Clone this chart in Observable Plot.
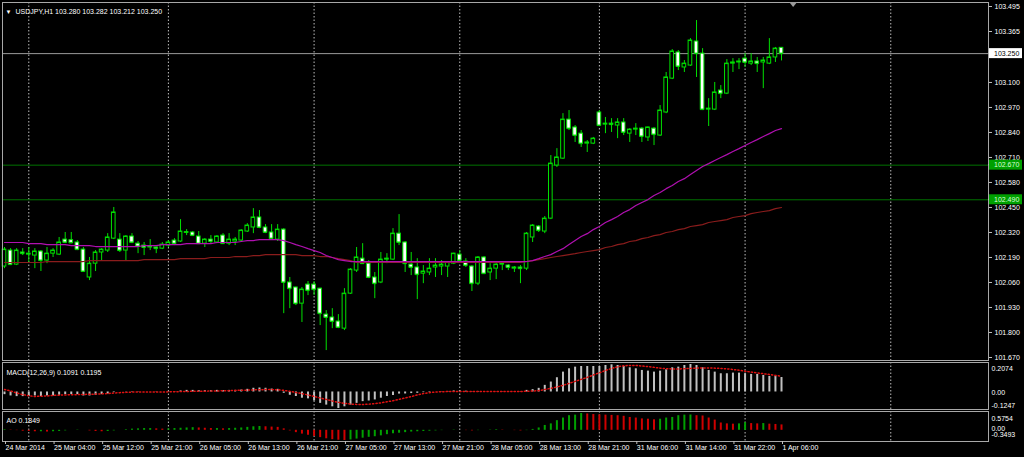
<!DOCTYPE html>
<html><head><meta charset="utf-8">
<script src="https://cdn.jsdelivr.net/npm/d3@7"></script>
<script src="https://cdn.jsdelivr.net/npm/@observablehq/plot@0.6"></script>
<style>
html,body{margin:0;padding:0;background:#000;}
#wrap{position:relative;width:1024px;height:457px;background:#000;overflow:hidden;}
#wrap svg{position:absolute;left:0;}
</style></head><body><div id="wrap"></div>
<script>
// ---------------- DATA ----------------
const symbolTitle = "USDJPY,H1 103.280 103.282 103.212 103.250";
const macdTitle = "MACD(12,26,9) 0.1091 0.1195";
const aoTitle = "AO 0.1849";

const open = [
102.143,102.226,102.153,102.216,102.205,102.200,102.221,102.174,102.210,102.205,
102.283,102.280,102.268,102.231,102.086,102.158,102.216,102.226,102.288,102.283,
102.226,102.299,102.262,102.252,102.242,102.242,102.236,102.252,102.278,102.273,
102.318,102.320,102.299,102.262,102.283,102.268,102.304,102.262,102.273,102.278,
102.325,102.346,102.398,102.346,102.320,102.283,102.335,102.060,102.034,101.950,
102.049,102.049,102.028,101.893,101.878,101.857,101.820,102.002,102.122,102.184,
102.158,102.086,102.060,102.179,102.179,102.314,102.268,102.153,102.138,102.106,
102.112,102.138,102.143,102.143,102.158,102.205,102.169,102.143,102.054,102.190,
102.112,102.132,102.153,102.148,102.132,102.138,102.132,102.294,102.351,102.325,
102.392,102.668,102.704,102.907,102.866,102.834,102.782,102.782,102.944,102.881,
102.886,102.876,102.892,102.834,102.855,102.860,102.814,102.860,102.824,102.944,
103.120,103.256,103.178,103.188,103.313,103.250,102.959,102.959,103.058,103.042,
103.198,103.204,103.224,103.198,103.209,103.204,103.198,103.230,103.280];
const high = [
102.242,102.236,102.236,102.236,102.242,102.236,102.226,102.242,102.236,102.294,
102.320,102.320,102.278,102.242,102.190,102.226,102.236,102.314,102.450,102.314,
102.304,102.314,102.273,102.268,102.283,102.244,102.268,102.278,102.288,102.387,
102.335,102.325,102.325,102.288,102.304,102.304,102.314,102.314,102.294,102.335,
102.366,102.444,102.434,102.361,102.361,102.361,102.340,102.086,102.036,102.034,
102.065,102.065,102.030,101.914,101.924,101.893,102.028,102.132,102.242,102.262,
102.174,102.112,102.216,102.210,102.340,102.413,102.273,102.216,102.184,102.148,
102.184,102.184,102.174,102.169,102.212,102.226,102.184,102.148,102.195,102.195,
102.158,102.158,102.164,102.153,102.143,102.148,102.320,102.361,102.356,102.403,
102.720,102.756,102.938,102.954,102.876,102.850,102.798,102.814,102.954,102.918,
102.912,102.912,102.912,102.860,102.886,102.866,102.868,102.866,102.980,103.152,
103.271,103.266,103.214,103.328,103.422,103.276,103.016,103.100,103.084,103.219,
103.224,103.224,103.250,103.250,103.230,103.230,103.328,103.282,103.282];
const low = [
102.132,102.148,102.148,102.200,102.164,102.132,102.117,102.158,102.190,102.200,
102.262,102.262,102.226,102.112,102.070,102.117,102.174,102.216,102.283,102.216,
102.174,102.262,102.210,102.200,102.226,102.210,102.231,102.242,102.252,102.268,
102.304,102.299,102.258,102.242,102.262,102.262,102.258,102.252,102.252,102.268,
102.320,102.314,102.340,102.314,102.283,102.273,101.898,101.924,101.940,101.852,
101.992,101.992,101.836,101.706,101.820,101.820,101.810,101.998,102.112,102.155,
102.080,101.976,102.054,102.158,102.174,102.252,102.112,102.096,101.971,102.054,
102.096,102.086,102.096,102.086,102.153,102.164,102.138,102.013,102.044,102.104,
102.070,102.075,102.122,102.122,102.112,102.054,102.122,102.268,102.320,102.314,
102.387,102.658,102.700,102.850,102.788,102.762,102.736,102.777,102.871,102.834,
102.840,102.808,102.824,102.788,102.824,102.788,102.793,102.772,102.819,102.938,
103.115,103.162,103.152,103.183,103.126,102.954,102.871,102.954,103.016,103.037,
103.152,103.167,103.178,103.188,103.152,103.068,103.193,103.204,103.212];
const close = [
102.231,102.153,102.226,102.210,102.210,102.221,102.174,102.210,102.226,102.268,
102.268,102.266,102.231,102.117,102.158,102.216,102.231,102.294,102.424,102.226,
102.299,102.268,102.247,102.242,102.247,102.236,102.257,102.268,102.262,102.325,
102.322,102.304,102.262,102.283,102.273,102.299,102.262,102.283,102.283,102.330,
102.356,102.398,102.346,102.320,102.288,102.335,102.060,102.028,101.950,102.023,
102.018,102.023,101.898,101.878,101.857,101.826,102.002,102.127,102.190,102.158,
102.086,102.054,102.179,102.184,102.314,102.268,102.158,102.138,102.101,102.117,
102.132,102.148,102.153,102.164,102.210,102.174,102.148,102.054,102.190,102.106,
102.132,102.153,102.158,102.138,102.138,102.132,102.314,102.356,102.330,102.392,
102.678,102.710,102.907,102.860,102.824,102.782,102.788,102.808,102.876,102.886,
102.881,102.892,102.840,102.855,102.860,102.819,102.866,102.829,102.954,103.126,
103.261,103.183,103.198,103.318,103.250,102.959,102.964,103.048,103.042,103.198,
103.204,103.209,103.204,103.209,103.198,103.214,103.230,103.276,103.250];

const maFast = [
102.268,102.268,102.268,102.268,102.262,102.262,102.262,102.257,102.257,102.257,
102.257,102.252,102.252,102.252,102.252,102.247,102.247,102.247,102.247,102.247,
102.247,102.247,102.247,102.252,102.252,102.252,102.257,102.257,102.257,102.257,
102.262,102.262,102.262,102.262,102.262,102.268,102.268,102.268,102.268,102.273,
102.278,102.278,102.283,102.283,102.283,102.283,102.278,102.268,102.257,102.247,
102.236,102.226,102.216,102.200,102.190,102.179,102.174,102.169,102.169,102.169,
102.169,102.169,102.169,102.169,102.169,102.169,102.169,102.169,102.169,102.169,
102.169,102.169,102.169,102.169,102.169,102.169,102.169,102.169,102.169,102.169,
102.169,102.169,102.169,102.169,102.169,102.169,102.169,102.174,102.184,102.195,
102.205,102.221,102.236,102.257,102.278,102.299,102.314,102.335,102.351,102.372,
102.387,102.403,102.424,102.439,102.460,102.476,102.491,102.512,102.528,102.548,
102.564,102.585,102.600,102.621,102.642,102.663,102.678,102.694,102.710,102.725,
102.741,102.756,102.772,102.788,102.803,102.819,102.834,102.850,102.860];
const maSlow = [
102.164,102.164,102.164,102.164,102.164,102.164,102.164,102.169,102.169,102.169,
102.169,102.169,102.169,102.169,102.174,102.174,102.174,102.174,102.174,102.174,
102.174,102.174,102.174,102.179,102.179,102.179,102.179,102.179,102.179,102.184,
102.184,102.184,102.184,102.184,102.190,102.190,102.190,102.190,102.195,102.195,
102.195,102.200,102.200,102.205,102.205,102.205,102.205,102.205,102.205,102.200,
102.200,102.200,102.195,102.195,102.190,102.184,102.179,102.174,102.164,102.164,
102.164,102.164,102.164,102.164,102.164,102.164,102.164,102.164,102.164,102.164,
102.164,102.164,102.164,102.164,102.164,102.164,102.164,102.164,102.164,102.164,
102.164,102.164,102.164,102.164,102.164,102.164,102.169,102.174,102.179,102.184,
102.190,102.195,102.200,102.205,102.210,102.216,102.221,102.226,102.231,102.242,
102.247,102.257,102.262,102.273,102.278,102.288,102.294,102.304,102.309,102.320,
102.325,102.335,102.340,102.351,102.356,102.361,102.372,102.377,102.382,102.387,
102.398,102.403,102.408,102.418,102.424,102.429,102.434,102.444,102.450];

const macdMain = [
-0.020,-0.030,-0.035,-0.035,-0.035,-0.030,-0.035,-0.030,-0.030,-0.025,
-0.020,-0.020,-0.020,-0.030,-0.030,-0.025,-0.020,-0.015,-0.005,0.000,
0.002,0.003,0.002,0.000,0.000,-0.002,0.000,0.002,0.003,0.008,
0.012,0.012,0.010,0.010,0.010,0.012,0.010,0.012,0.012,0.015,
0.020,0.028,0.030,0.028,0.022,0.020,-0.010,-0.025,-0.034,-0.047,
-0.052,-0.068,-0.086,-0.099,-0.112,-0.1247,-0.112,-0.099,-0.086,-0.073,
-0.068,-0.060,-0.047,-0.034,-0.026,-0.016,-0.015,-0.012,-0.010,-0.005,
-0.004,0.000,0.002,0.004,0.008,0.008,0.006,-0.002,0.004,0.000,
0.000,0.001,0.002,0.002,0.002,0.002,0.012,0.0175,0.0275,0.050,
0.075,0.1075,0.150,0.175,0.1875,0.1925,0.1925,0.1925,0.1925,0.200,
0.205,0.200,0.1925,0.1825,0.175,0.1625,0.1575,0.150,0.1575,0.1675,
0.1825,0.1875,0.200,0.2074,0.200,0.1825,0.1625,0.150,0.1375,0.1375,
0.1425,0.1425,0.1375,0.1325,0.1325,0.125,0.1175,0.1175,0.1091];
const macdSignal = [
0.018,0.008,-0.008,-0.020,-0.028,-0.034,-0.032,-0.030,-0.026,-0.024,
-0.022,-0.021,-0.020,-0.019,-0.017,-0.016,-0.014,-0.012,-0.008,-0.005,
-0.003,-0.001,0.000,0.000,0.000,0.000,0.000,0.001,0.002,0.003,
0.004,0.005,0.005,0.006,0.007,0.008,0.009,0.010,0.012,0.013,
0.014,0.016,0.017,0.018,0.018,0.017,0.012,0.005,-0.004,-0.012,
-0.022,-0.034,-0.045,-0.056,-0.068,-0.078,-0.086,-0.091,-0.094,-0.094,
-0.092,-0.088,-0.082,-0.074,-0.066,-0.056,-0.045,-0.035,-0.022,-0.012,
-0.005,0.000,0.002,0.003,0.003,0.004,0.004,0.004,0.004,0.004,
0.004,0.004,0.004,0.004,0.004,0.004,0.005,0.0075,0.010,0.018,
0.028,0.038,0.050,0.065,0.080,0.095,0.110,0.128,0.145,0.162,
0.178,0.190,0.198,0.200,0.200,0.196,0.192,0.186,0.180,0.176,
0.174,0.174,0.175,0.178,0.180,0.182,0.181,0.180,0.178,0.175,
0.170,0.164,0.157,0.150,0.144,0.138,0.132,0.125,0.1195];

const aoValues = [
0.02,0.01,-0.01,-0.03,-0.04,-0.05,-0.05,-0.06,-0.05,-0.04,
-0.02,0.00,0.01,0.00,-0.02,-0.04,-0.05,-0.04,-0.02,0.00,
0.02,0.04,0.05,0.06,0.06,0.05,0.04,0.05,0.06,0.07,
0.08,0.09,0.08,0.07,0.06,0.06,0.05,0.06,0.07,0.08,
0.10,0.12,0.13,0.12,0.11,0.10,0.05,-0.02,-0.08,-0.13,
-0.17,-0.21,-0.25,-0.29,-0.32,-0.34,-0.3493,-0.33,-0.30,-0.27,
-0.24,-0.22,-0.19,-0.15,-0.12,-0.10,-0.08,-0.06,-0.05,-0.04,
-0.03,-0.02,-0.01,0.00,0.01,0.00,-0.01,-0.02,-0.01,0.00,
0.01,0.02,0.01,0.00,-0.01,-0.02,-0.01,0.03,0.08,0.166,
0.22,0.33,0.42,0.50,0.52,0.5754,0.56,0.54,0.53,0.52,
0.51,0.50,0.48,0.44,0.42,0.39,0.38,0.36,0.38,0.42,
0.44,0.50,0.52,0.525,0.50,0.49,0.42,0.35,0.25,0.22,
0.21,0.22,0.26,0.23,0.22,0.23,0.21,0.20,0.1849];

const timeLabels = ["24 Mar 2014","25 Mar 04:00","25 Mar 12:00","25 Mar 21:00","26 Mar 05:00",
  "26 Mar 13:00","26 Mar 21:00","27 Mar 05:00","27 Mar 13:00","27 Mar 21:00","28 Mar 05:00",
  "28 Mar 13:00","28 Mar 21:00","31 Mar 06:00","31 Mar 14:00","31 Mar 22:00","1 Apr 06:00"];
const timeLabelBars = [0,8,16,24,32,40,48,56,64,72,80,88,96,104,112,120,128];
const dayStartBars = [4,27,51,75,98,122,146];
const priceTicks = [103.495,103.365,103.100,102.970,102.840,102.710,102.580,102.450,
  102.320,102.190,102.060,101.930,101.800,101.670];
const currentPrice = 103.250;
const levelLines = [102.670,102.490];
const macdRange = [-0.1247, 0.2074];
const macdTicks = ["0.2074","0.00","-0.1247"];
const aoRange = [-0.3493, 0.5754];
const aoTicks = ["0.5754","0.00","-0.3493"];

// ---------------- RENDER ----------------
const FONT = "Liberation Sans, Arial, sans-serif";
const W = 1024, MR = 36, ML = 2;
const idx = d3.range(open.length);
const xOpt = {domain: [0, open.length - 1], range: [4, 781], axis: null};
const GREEN = "#00e000", GRID = "#bdbdbd", FRAME = "#a8a8a8", TXT = "#ffffff";
const style = {background: "transparent", color: TXT, fontFamily: FONT, fontSize: "7px", overflow: "visible"};
const wrap = document.getElementById("wrap");

// Main price panel
const main = Plot.plot({
  width: W, height: 361, marginLeft: ML, marginRight: MR, marginTop: 2, marginBottom: 1,
  x: xOpt,
  y: {domain: [priceTicks[priceTicks.length - 1], priceTicks[0]], range: [357, 6], axis: null},
  style,
  marks: [
    Plot.ruleX(dayStartBars, {x: d => d, stroke: GRID, strokeDasharray: "1.5,2"}),
    Plot.ruleY([currentPrice], {stroke: "#9a9a9a"}),
    Plot.ruleY(levelLines, {stroke: "#007300"}),
    Plot.ruleX(idx, {x: i => i, y1: i => low[i], y2: i => high[i], stroke: GREEN}),
    Plot.rect(idx, {x1: i => i - 0.3, x2: i => i + 0.3, y1: i => open[i], y2: i => close[i],
      fill: i => close[i] < open[i] ? "#ffffff" : "#000000", stroke: GREEN}),
    Plot.ruleY(idx, {y: i => close[i], x1: i => i - 0.3, x2: i => i + 0.3, stroke: GREEN}),
    Plot.line(idx, {x: i => i, y: i => maSlow[i], stroke: "#8a1c1c", strokeWidth: 1.2}),
    Plot.line(idx, {x: i => i, y: i => maFast[i], stroke: "#b010b0", strokeWidth: 1.2}),
    Plot.frame({stroke: FRAME}),
    Plot.axisY({ticks: priceTicks, anchor: "right", tickSize: 3, tickPadding: 3,
      tickFormat: d => d.toFixed(3), fontSize: 7, fill: TXT, stroke: "#c0c0c0"}),
    Plot.text(["▼"], {frameAnchor: "top-left", dx: 3, dy: 7, fill: TXT, fontSize: 6, textAnchor: "start"}),
    Plot.text([symbolTitle], {frameAnchor: "top-left", dx: 13, dy: 7, fill: TXT, fontSize: 7, textAnchor: "start"})
  ]
});
main.style.top = "0px";
wrap.appendChild(main);
{
  const sy = main.scale("y"), sx = main.scale("x");
  const g = d3.select(main).append("g").attr("font-family", FONT).attr("font-size", 7).attr("text-anchor", "start");
  const ax = W - MR + 1;
  const boxes = [
    {v: currentPrice, bg: "#ffffff", fg: "#000000"},
    {v: levelLines[0], bg: "#00a000", fg: "#d8ffd8"},
    {v: levelLines[1], bg: "#00a000", fg: "#d8ffd8"}
  ];
  for (const b of boxes) {
    const y = sy.apply(b.v);
    g.append("line").attr("x1", ax - 1).attr("x2", ax + 3).attr("y1", y).attr("y2", y).attr("stroke", "#c0c0c0");
    g.append("rect").attr("x", ax).attr("y", y - 5).attr("width", W - ax - 2).attr("height", 10).attr("fill", b.bg);
    g.append("text").attr("x", ax + 5).attr("y", y + 2.5).attr("text-anchor", "start").attr("fill", b.fg).text(b.v.toFixed(3));
  }
  const tx = sx.apply(open.length + 1);
  g.append("path").attr("d", `M${tx - 4},2L${tx + 4},2L${tx},7Z`).attr("fill", "#9a9a9a");
}

// MACD panel
const macd = Plot.plot({
  width: W, height: 49, marginLeft: ML, marginRight: MR, marginTop: 1, marginBottom: 1,
  x: xOpt,
  y: {domain: macdRange, range: [47, 3], axis: null},
  style,
  marks: [
    Plot.ruleX(dayStartBars, {x: d => d, stroke: GRID, strokeDasharray: "1.5,2"}),
    Plot.ruleX(idx, {x: i => i, y1: 0, y2: i => macdMain[i], stroke: "#c0c0c0", strokeWidth: 2}),
    Plot.line(idx, {x: i => i, y: i => macdSignal[i], stroke: "#e01010", strokeWidth: 1.5, strokeDasharray: "1.2,2.2"}),
    Plot.frame({stroke: FRAME}),
    Plot.text([macdTitle], {frameAnchor: "top-left", dx: 4, dy: 8, fill: TXT, fontSize: 7, textAnchor: "start"}),
    Plot.text([macdRange[1]], {y: d => d, text: () => macdTicks[0], frameAnchor: "right", dx: 3, dy: 4, fill: TXT, fontSize: 7, textAnchor: "start"}),
    Plot.text([0], {y: d => d, text: () => macdTicks[1], frameAnchor: "right", dx: 3, dy: 1, fill: TXT, fontSize: 7, textAnchor: "start"}),
    Plot.text([macdRange[0]], {y: d => d, text: () => macdTicks[2], frameAnchor: "right", dx: 3, dy: -3, fill: TXT, fontSize: 7, textAnchor: "start"})
  ]
});
macd.style.top = "361px";
wrap.appendChild(macd);

// AO panel (with time axis)
const ao = Plot.plot({
  width: W, height: 47, marginLeft: ML, marginRight: MR, marginTop: 1, marginBottom: 16,
  x: xOpt,
  y: {domain: aoRange, range: [30, 3], axis: null},
  style,
  marks: [
    Plot.ruleX(dayStartBars, {x: d => d, stroke: GRID, strokeDasharray: "1.5,2"}),
    Plot.ruleX(idx, {x: i => i, y1: 0, y2: i => aoValues[i],
      stroke: i => (i > 0 && aoValues[i] < aoValues[i - 1]) ? "#d00000" : "#00a000", strokeWidth: 2}),
    Plot.frame({stroke: FRAME}),
    Plot.text([aoTitle], {frameAnchor: "top-left", dx: 4, dy: 7, fill: TXT, fontSize: 7, textAnchor: "start"}),
    Plot.text([aoRange[1]], {y: d => d, text: () => aoTicks[0], frameAnchor: "right", dx: 3, dy: 5, fill: TXT, fontSize: 7, textAnchor: "start"}),
    Plot.text([0], {y: d => d, text: () => aoTicks[1], frameAnchor: "right", dx: 3, dy: -2, fill: TXT, fontSize: 7, textAnchor: "start"}),
    Plot.text([aoRange[0]], {y: d => d, text: () => aoTicks[2], frameAnchor: "right", dx: 3, dy: -6, fill: TXT, fontSize: 7, textAnchor: "start"}),
    Plot.axisX({ticks: timeLabelBars, anchor: "bottom", tickSize: 3, tickPadding: 1,
      tickFormat: d => timeLabels[timeLabelBars.indexOf(d)], textAnchor: "start", dx: 1,
      fontSize: 7, fill: TXT, stroke: "#c0c0c0"})
  ]
});
ao.style.top = "410px";
wrap.appendChild(ao);
</script></body></html>
